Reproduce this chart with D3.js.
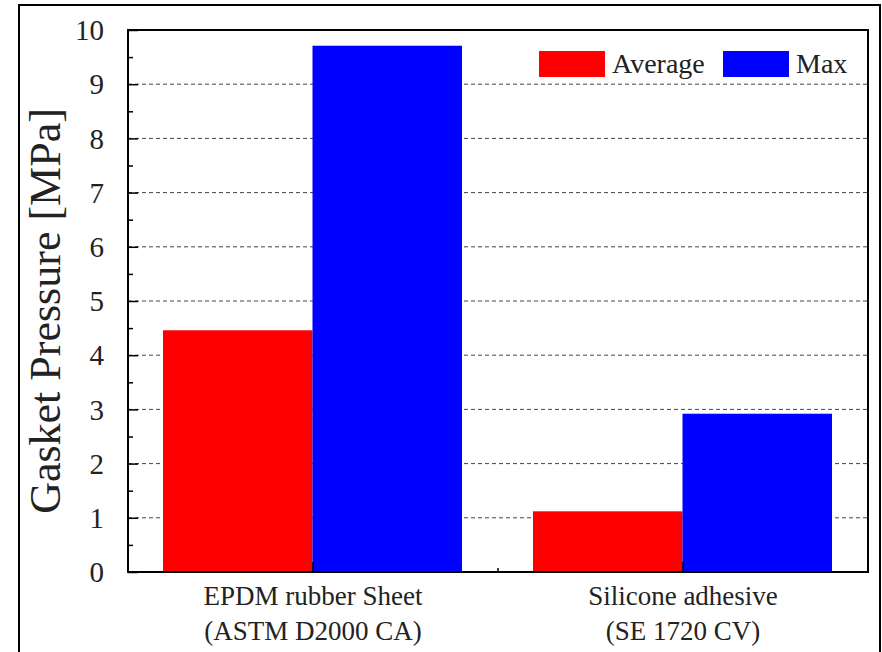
<!DOCTYPE html>
<html>
<head>
<meta charset="utf-8">
<script src="https://cdn.jsdelivr.net/npm/d3@7"></script>
<style>
  body { margin: 0; background: #fff; }
  svg text { font-family: "Liberation Serif", "DejaVu Serif", serif; fill: #222; }
</style>
</head>
<body>
<div id="grafico"></div>
<script>
// Dados do gráfico
const categorias = ["EPDM rubber Sheet|(ASTM D2000 CA)", "Silicone adhesive|(SE 1720 CV)"];
const series = ["Average", "Max"];
const valoresAverage = [4.46, 1.12];
const valoresMax = [9.71, 2.92];
const ticksY = [0, 1, 2, 3, 4, 5, 6, 7, 8, 9, 10];

const width = 882, height = 652;
const margin = { top: 30, right: 14, bottom: 80, left: 128 };
const innerW = width - margin.left - margin.right;   // 740
const innerH = height - margin.top - margin.bottom;  // 542

const fonte = "'Liberation Serif', 'DejaVu Serif', serif";

const svg = d3.select("#grafico")
  .append("svg")
  .attr("width", width)
  .attr("height", height)
  .attr("font-family", fonte);

// moldura externa
svg.append("rect")
  .attr("x", 19).attr("y", 5)
  .attr("width", 861).attr("height", 660)
  .attr("fill", "none")
  .attr("stroke", "#000")
  .attr("stroke-width", 2);

const g = svg.append("g")
  .attr("transform", `translate(${margin.left},${margin.top})`);

const x0 = d3.scaleBand()
  .domain(categorias)
  .range([0, innerW])
  .padding(0);

const x1 = d3.scaleBand()
  .domain(series)
  .range([35, x0.bandwidth() - 36])
  .padding(0);

const y = d3.scaleLinear()
  .domain([0, 10])
  .range([innerH, 0]);

const cores = { Average: "#ff0000", Max: "#0000ff" };

// linhas de grade tracejadas
g.append("g")
  .selectAll("line")
  .data(ticksY.filter(d => d > 0 && d < 10))
  .join("line")
  .attr("x1", 0)
  .attr("x2", innerW)
  .attr("y1", d => y(d))
  .attr("y2", d => y(d))
  .attr("stroke", "#444")
  .attr("stroke-width", 1)
  .attr("stroke-dasharray", "4,3");

// barras
const dados = categorias.map((c, i) => ({
  categoria: c,
  valores: [
    { serie: "Average", valor: valoresAverage[i] },
    { serie: "Max", valor: valoresMax[i] }
  ]
}));

g.selectAll(".grupo")
  .data(dados)
  .join("g")
  .attr("class", "grupo")
  .attr("transform", d => `translate(${x0(d.categoria)},0)`)
  .selectAll("rect")
  .data(d => d.valores)
  .join("rect")
  .attr("x", d => x1(d.serie))
  .attr("width", x1.bandwidth())
  .attr("y", d => y(d.valor))
  .attr("height", d => innerH - y(d.valor))
  .attr("fill", d => cores[d.serie]);

// eixo Y (ticks para dentro)
const eixoY = g.append("g")
  .call(d3.axisRight(y).tickValues(ticksY).tickSize(10).tickFormat(""));
eixoY.select(".domain").remove();
eixoY.selectAll("line").attr("stroke", "#000").attr("stroke-width", 1.5);

const eixoYMenor = g.append("g")
  .call(d3.axisRight(y).tickValues(d3.range(0.5, 10, 1)).tickSize(5).tickFormat(""));
eixoYMenor.select(".domain").remove();
eixoYMenor.selectAll("line").attr("stroke", "#000").attr("stroke-width", 1.5);

// rótulos do eixo Y
g.append("g")
  .selectAll("text")
  .data(ticksY)
  .join("text")
  .attr("x", -24)
  .attr("y", d => y(d))
  .attr("dy", "0.35em")
  .attr("text-anchor", "end")
  .attr("font-family", fonte)
  .style("font-size", "29px")
  .text(d => d);

// eixo X (ticks para dentro)
const eixoX = g.append("g")
  .attr("transform", `translate(0,${innerH})`)
  .call(d3.axisTop(x0).tickSize(10).tickFormat(""));
eixoX.select(".domain").remove();
eixoX.selectAll("line").attr("stroke", "#000").attr("stroke-width", 1.5);

g.append("g")
  .attr("transform", `translate(0,${innerH})`)
  .selectAll("line")
  .data(categorias.slice(1))
  .join("line")
  .attr("x1", d => x0(d))
  .attr("x2", d => x0(d))
  .attr("y1", 0)
  .attr("y2", -4)
  .attr("stroke", "#000")
  .attr("stroke-width", 1.5);

// rótulos do eixo X (duas linhas)
const rotulosX = g.append("g")
  .selectAll("text")
  .data(categorias)
  .join("text")
  .attr("x", d => x0(d) + x0.bandwidth() / 2)
  .attr("y", innerH + 33)
  .attr("text-anchor", "middle")
  .attr("font-family", fonte)
  .style("font-size", "27px");
rotulosX.each(function(d) {
  const linhas = d.split("|");
  d3.select(this).selectAll("tspan")
    .data(linhas)
    .join("tspan")
    .attr("x", x0(d) + x0.bandwidth() / 2)
    .attr("dy", (l, i) => i === 0 ? 0 : 35)
    .text(l => l);
});

// borda da área do gráfico
g.append("rect")
  .attr("x", 0).attr("y", 0)
  .attr("width", innerW).attr("height", innerH)
  .attr("fill", "none")
  .attr("stroke", "#000")
  .attr("stroke-width", 2);

// título do eixo Y
svg.append("text")
  .attr("transform", `translate(60,${margin.top + innerH / 2 + 10}) rotate(-90)`)
  .attr("text-anchor", "middle")
  .attr("font-family", fonte)
  .style("font-size", "44px")
  .text("Gasket Pressure [MPa]");

// legenda
const legendaPos = [{ x: 539, tx: 612 }, { x: 723, tx: 796 }];
const legenda = svg.append("g")
  .selectAll("g")
  .data(series)
  .join("g");
legenda.append("rect")
  .attr("x", (d, i) => legendaPos[i].x)
  .attr("y", 51)
  .attr("width", 66)
  .attr("height", 26)
  .attr("fill", d => cores[d]);
legenda.append("text")
  .attr("x", (d, i) => legendaPos[i].tx)
  .attr("y", 73)
  .attr("font-family", fonte)
  .style("font-size", "28px")
  .text(d => d);
</script>
</body>
</html>
